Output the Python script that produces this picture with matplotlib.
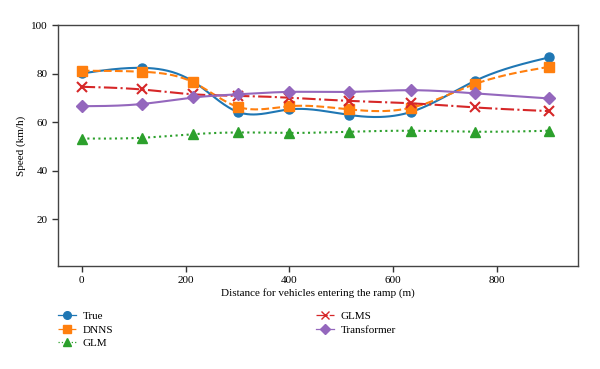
import numpy as np
import matplotlib.pyplot as plt

plt.rcParams['font.family'] = ['Liberation Serif', 'DejaVu Serif']

# distancia (m) y velocidades (km/h)
distancia = [0, 115, 215, 300, 400, 515, 635, 757, 900]
true_vals = [80.1, 82.4, 76.7, 64.3, 65.3, 63.0, 64.3, 77.0, 86.7]
dnns_vals = [81.2, 80.8, 76.4, 66.4, 66.6, 65.3, 66.0, 75.7, 82.8]
glm_vals = [53.3, 53.6, 55.1, 55.8, 55.6, 56.1, 56.5, 56.1, 56.5]
glms_vals = [74.6, 73.5, 71.5, 70.9, 70.1, 68.8, 67.8, 66.1, 64.6]
transformer_vals = [66.6, 67.5, 70.2, 71.5, 72.5, 72.5, 73.2, 71.9, 69.8]


def spline_natural(xs, ys, n=300):
    """Curva suave (spline cubico natural) solo para dibujar la linea"""
    x = np.asarray(xs, float)
    y = np.asarray(ys, float)
    k = len(x)
    h = np.diff(x)
    A = np.zeros((k, k))
    b = np.zeros(k)
    A[0, 0] = A[-1, -1] = 1
    for i in range(1, k - 1):
        A[i, i - 1] = h[i - 1]
        A[i, i] = 2 * (h[i - 1] + h[i])
        A[i, i + 1] = h[i]
        b[i] = 6 * ((y[i + 1] - y[i]) / h[i] - (y[i] - y[i - 1]) / h[i - 1])
    M = np.linalg.solve(A, b)
    xx = np.linspace(x[0], x[-1], n)
    idx = np.clip(np.searchsorted(x, xx) - 1, 0, k - 2)
    x0, x1 = x[idx], x[idx + 1]
    hh = x1 - x0
    t0, t1 = x1 - xx, xx - x0
    yy = (M[idx] * t0**3 + M[idx + 1] * t1**3) / (6 * hh) \
        + (y[idx] / hh - M[idx] * hh / 6) * t0 \
        + (y[idx + 1] / hh - M[idx + 1] * hh / 6) * t1
    return xx, yy


series = [
    ("True", true_vals, "#1f77b4", "o", "-"),
    ("DNNS", dnns_vals, "#ff7f0e", "s", "--"),
    ("GLM", glm_vals, "#2ca02c", "^", ":"),
    ("GLMS", glms_vals, "#d62728", "x", "-."),
    ("Transformer", transformer_vals, "#9467bd", "D", "-"),
]

fig = plt.figure(figsize=(6, 3.69), dpi=100)
ax = fig.add_axes([0.097, 0.279, 0.866, 0.653])

handles = []
for nombre, vals, color, marker, ls in series:
    xx, yy = spline_natural(distancia, vals)
    ax.plot(xx, yy, color=color, linestyle=ls, linewidth=1.5)
    ax.plot(distancia, vals, color=color, linestyle="none", marker=marker,
            markersize=6.5 if marker != "x" else 7, markeredgewidth=1.5 if marker == "x" else 1)
    h, = ax.plot([], [], color=color, linestyle=ls, linewidth=0.9, marker=marker, markersize=5.5)
    h.set_label(nombre)
    handles.append(h)

ax.set_xlim(-45.5, 955.5)
ax.set_ylim(0.8, 100)
ax.set_xticks([0, 200, 400, 600, 800])
ax.set_yticks([20, 40, 60, 80, 100])
ax.tick_params(labelsize=8, length=4, width=1, colors="#333333", labelcolor="black")
for s in ax.spines.values():
    s.set_color("#444444")
    s.set_linewidth(1)
ax.set_xlabel("Distance for vehicles entering the ramp (m)", fontsize=8, labelpad=2)
ax.set_ylabel("Speed (km/h)", fontsize=8)

fig.legend(handles=handles, ncol=2, loc="upper left", bbox_to_anchor=(0.08, 0.184),
           frameon=False, fontsize=8, handlelength=1.6, handletextpad=0.6,
           columnspacing=18.3, labelspacing=0.35)

fig.savefig("out.png", dpi=100)
